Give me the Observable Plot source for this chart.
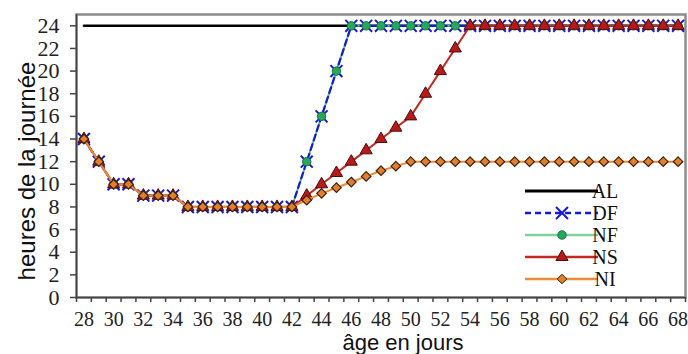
<!DOCTYPE html>
<html><head><meta charset="utf-8">
<script src="https://cdn.jsdelivr.net/npm/d3@7"></script>
<script src="https://cdn.jsdelivr.net/npm/@observablehq/plot@0.6"></script>
<style>
body{margin:0;background:#fff;}
#chart{width:688px;height:354px;overflow:hidden;}
#chart svg text{font-family:"Liberation Serif","Tinos","Times New Roman","DejaVu Serif",serif;}
#chart svg text.sanslabel{font-family:"Liberation Sans",Arimo,Arial,sans-serif;}
</style></head><body><div id="chart"></div>
<script>
// x categories: age in days
const days = [28,29,30,31,32,33,34,35,36,37,38,39,40,41,42,43,44,45,46,47,48,49,50,51,52,53,54,55,56,57,58,59,60,61,62,63,64,65,66,67,68];
const xTickLabels = [28,30,32,34,36,38,40,42,44,46,48,50,52,54,56,58,60,62,64,66,68];
const yTickLabels = [0,2,4,6,8,10,12,14,16,18,20,22,24];
// hours of light per day
const AL = [24,24,24,24,24,24,24,24,24,24,24,24,24,24,24,24,24,24,24,24,24,24,24,24,24,24,24,24,24,24,24,24,24,24,24,24,24,24,24,24,24];
const DF = [14,12,10,10,9,9,9,8,8,8,8,8,8,8,8,12,16,20,24,24,24,24,24,24,24,24,24,24,24,24,24,24,24,24,24,24,24,24,24,24,24];
const NF = [14,12,10,10,9,9,9,8,8,8,8,8,8,8,8,12,16,20,24,24,24,24,24,24,24,24,24,24,24,24,24,24,24,24,24,24,24,24,24,24,24];
const NS = [14,12,10,10,9,9,9,8,8,8,8,8,8,8,8,9,10,11,12,13,14,15,16,18,20,22,24,24,24,24,24,24,24,24,24,24,24,24,24,24,24];
const NI = [14,12,10,10,9,9,9,8,8,8,8,8,8,8,8,8.6,9.2,9.7,10.2,10.7,11.2,11.6,12,12,12,12,12,12,12,12,12,12,12,12,12,12,12,12,12,12,12];
const seriesNames = ["AL","DF","NF","NS","NI"];
const xTitle = "âge en jours";
const yTitle = "heures de la journée";

const rows = vals => days.map((d, i) => ({day: d, h: vals[i]}));
const minorTicks = days.map(d => d - 0.5).concat([days[days.length - 1] + 0.5]);

const style = {
  AL: {stroke: "#000000", width: 2.5},
  DF: {stroke: "#1818d8", width: 2.2, dash: "6,4", symbol: "times", r: 5.5, fill: "none", mstroke: "#1818d8"},
  NF: {stroke: "#5cc08c", width: 2, symbol: "circle", r: 4.2, fill: "#25a85a", mstroke: "#17703a"},
  NS: {stroke: "#c02a22", width: 2, symbol: "triangle", r: 4.5, fill: "#b81a1a", mstroke: "#4a0c0c"},
  NI: {stroke: "#f08a36", width: 2, symbol: "diamond2", r: 4.3, fill: "#e0802c", mstroke: "#3c1e0c"}
};

const chart = Plot.plot({
  width: 688, height: 354,
  marginLeft: 76, marginRight: 3, marginTop: 14, marginBottom: 57,
  style: {background: "#fff", color: "#222"},
  x: {domain: [27.5, 68.5], axis: null},
  y: {domain: [0, 25], axis: null},
  marks: [
    Plot.frame({stroke: "#8c8c8c", strokeWidth: 2.5}),
    Plot.axisY({ticks: yTickLabels, tickSize: 6, tickPadding: 11, fontSize: 22, label: null, stroke: "#444", strokeWidth: 1.5}),
    Plot.axisX({ticks: minorTicks, tickSize: 5, tickFormat: () => "", label: null, stroke: "#444", strokeWidth: 1.5}),
    Plot.axisX({ticks: xTickLabels, tickSize: 0, tickPadding: 14, fontSize: 20, label: null}),
    Plot.ruleY([0], {stroke: "#444", strokeWidth: 1.5}),
    Plot.ruleX([27.5], {stroke: "#444", strokeWidth: 1.5}),
    Plot.line(rows(AL), {x: "day", y: "h", stroke: style.AL.stroke, strokeWidth: style.AL.width}),
    Plot.line(rows(NF), {x: "day", y: "h", stroke: style.NF.stroke, strokeWidth: style.NF.width}),
    Plot.line(rows(DF), {x: "day", y: "h", stroke: style.DF.stroke, strokeWidth: style.DF.width, strokeDasharray: style.DF.dash}),
    Plot.dot(rows(DF), {x: "day", y: "h", symbol: "times", r: style.DF.r, stroke: style.DF.mstroke, strokeWidth: 2}),
    Plot.dot(rows(NF), {x: "day", y: "h", symbol: "circle", r: style.NF.r, fill: style.NF.fill, stroke: style.NF.mstroke, strokeWidth: 1}),
    Plot.line(rows(NS), {x: "day", y: "h", stroke: style.NS.stroke, strokeWidth: style.NS.width}),
    Plot.dot(rows(NS), {x: "day", y: "h", symbol: "triangle", r: style.NS.r, fill: style.NS.fill, stroke: style.NS.mstroke, strokeWidth: 1}),
    Plot.line(rows(NI), {x: "day", y: "h", stroke: style.NI.stroke, strokeWidth: style.NI.width}),
    Plot.dot(rows(NI), {x: "day", y: "h", symbol: "diamond2", r: style.NI.r, fill: style.NI.fill, stroke: style.NI.mstroke, strokeWidth: 1.2}),
    Plot.text([xTitle], {frameAnchor: "bottom", textAnchor: "middle", lineAnchor: "middle", dx: 22, dy: 45.3, fontSize: 22, fill: "#111"}),
    Plot.text([yTitle], {frameAnchor: "left", textAnchor: "middle", lineAnchor: "middle", rotate: -90, dx: -49, dy: 15, fontSize: 24, fill: "#111"})
  ]
});
document.getElementById("chart").appendChild(chart);

const svg = d3.select(chart);
svg.selectAll("text").filter(function() { const t = this.textContent; return t === xTitle || t === yTitle; })
  .classed("sanslabel", true);

// legend inside the plot area
const lg = svg.append("g").attr("class", "legend");
const x0 = 525, x1 = 598, xm = 562, ly0 = 191, lstep = 22;
seriesNames.forEach((name, i) => {
  const s = style[name];
  const y = ly0 + i * lstep;
  lg.append("line").attr("x1", x0).attr("x2", x1).attr("y1", y).attr("y2", y)
    .attr("stroke", name === "NF" ? "#7fd2a0" : s.stroke).attr("stroke-width", s.width + 0.5)
    .attr("stroke-dasharray", s.dash || null);
  if (s.symbol) {
    const sym = {times: d3.symbolTimes, circle: d3.symbolCircle, triangle: d3.symbolTriangle, diamond2: d3.symbolDiamond2}[s.symbol];
    lg.append("path").attr("d", d3.symbol(sym, Math.PI * s.r * s.r)())
      .attr("transform", `translate(${xm},${y})`)
      .attr("fill", s.symbol === "times" ? "none" : s.fill)
      .attr("stroke", s.mstroke).attr("stroke-width", s.symbol === "times" ? 2 : 1);
  }
  lg.append("text").attr("x", x1 + 7).attr("y", y).attr("dy", "0.34em")
    .attr("font-size", 20).attr("fill", "#111").text(name);
});
</script>
</body></html>
